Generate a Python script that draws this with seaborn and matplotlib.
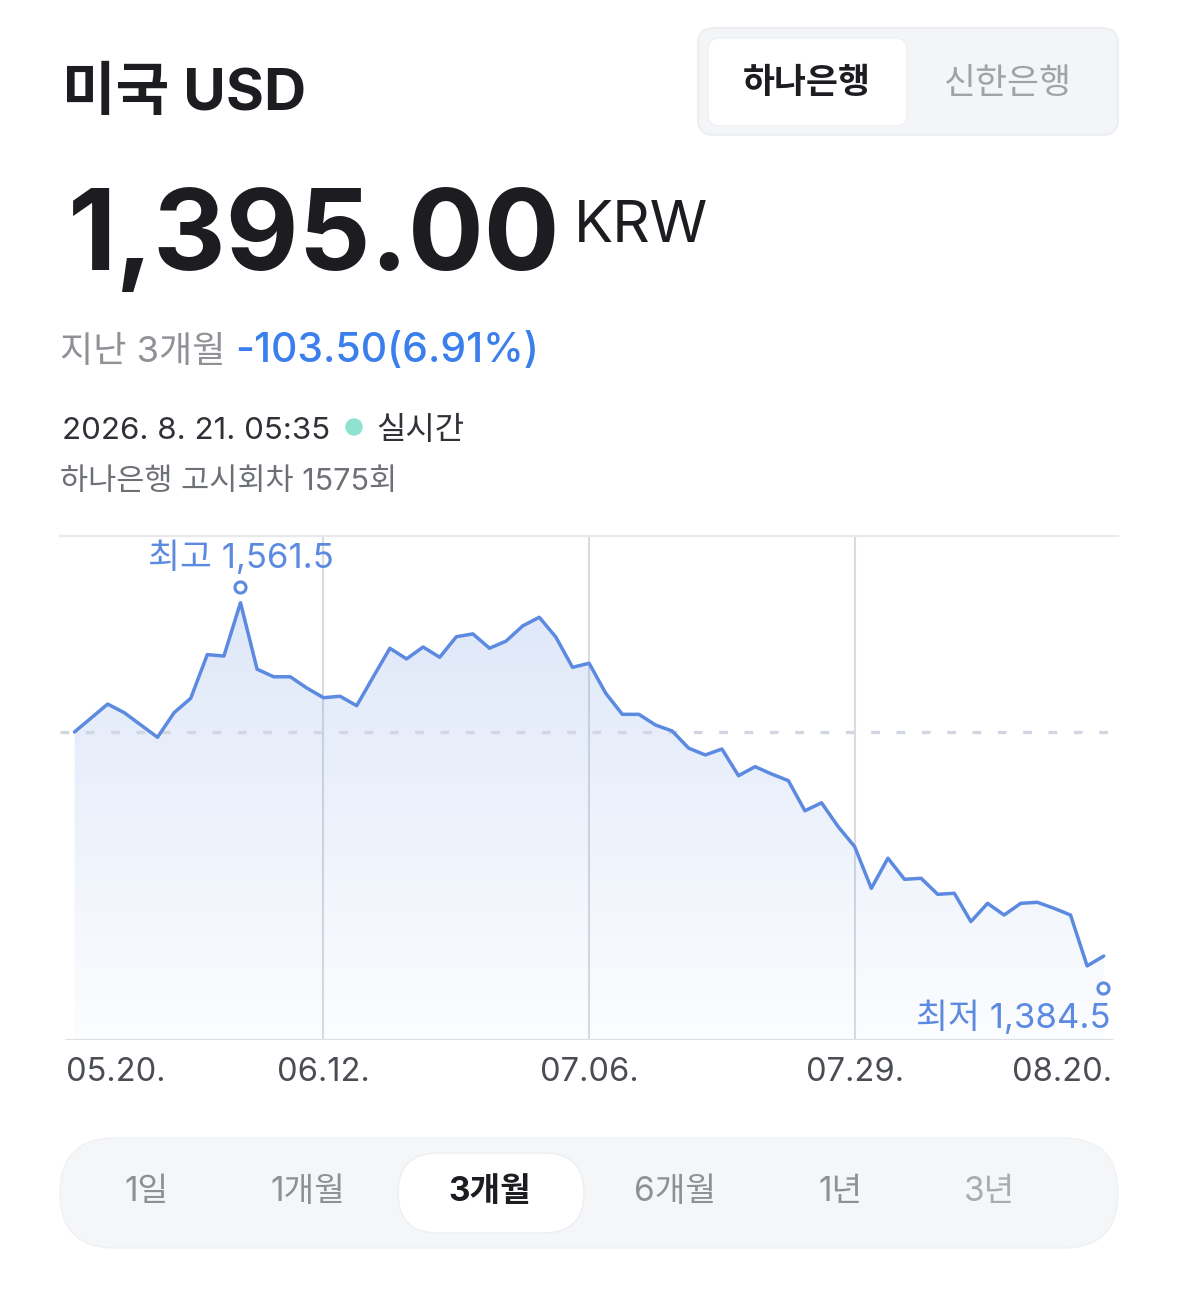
import numpy as np
import pandas as pd
import matplotlib
matplotlib.use("Agg")
import matplotlib.pyplot as plt
import matplotlib.transforms as mtransforms
from matplotlib.patches import FancyBboxPatch, Circle
import seaborn as sns

# USD/KRW (하나은행) daily rates, last 3 months
rates = [1498.5, 1505.3, 1512.1, 1507.9, 1501.9, 1495.9, 1507.9, 1514.9, 1536.2, 1535.5,
         1561.5, 1529.1, 1525.4, 1525.4, 1519.9, 1515.2, 1515.9, 1511.3, 1525.4, 1539.3,
         1534.1, 1539.9, 1534.9, 1544.9, 1546.3, 1539.3, 1542.8, 1550.2, 1554.4, 1544.7,
         1530.0, 1532.0, 1517.4, 1507.1, 1507.1, 1501.9, 1499.0, 1490.6, 1487.3, 1490.2,
         1477.2, 1481.6, 1478.0, 1474.8, 1460.1, 1464.0, 1452.4, 1442.6, 1422.3, 1437.0,
         1426.7, 1427.2, 1419.4, 1419.9, 1406.1, 1415.0, 1409.3, 1415.0, 1415.5, 1412.6,
         1409.3, 1384.5, 1389.3]
tick_days = [0, 15, 31, 47, 62]
tick_labels = ["05.20.", "06.12.", "07.06.", "07.29.", "08.20."]
base_rate = 1498.5
period_labels = ["1일", "1개월", "3개월", "6개월", "1년", "3년"]
bank_labels = ["하나은행", "신한은행"]

LINE = "#5b8ae0"
DARK = "#1c1c21"

sns.set_theme(style="white")
# latin glyphs from Inter, hangul falls through to Noto CJK
plt.rcParams["font.family"] = ["Inter", "Noto Sans CJK KR", "DejaVu Sans"]

W, H = 1179, 1294
fig = plt.figure(figsize=(W / 100, H / 100), dpi=100)
fig.patch.set_facecolor("white")

# overlay in pixel units for the page elements
bg = fig.add_axes([0, 0, 1, 1], zorder=0)
bg.set_xlim(0, W)
bg.set_ylim(H, 0)
bg.axis("off")

# ---- chart ----
ax = fig.add_axes([60 / W, (H - 1040) / H, 1058 / W, 504 / H], zorder=1)
ax.patch.set_alpha(0)
df = pd.DataFrame({"day": np.arange(len(rates)), "rate": rates})
x0, x1 = -0.873, 62.86
y0, y1 = 1348.4, 1594.0

poly = ax.fill_between(df["day"], df["rate"], y0, color="none", lw=0)
grad = np.zeros((256, 1, 4))
grad[:, 0, 0] = 0.36
grad[:, 0, 1] = 0.54
grad[:, 0, 2] = 0.88
grad[:, 0, 3] = np.linspace(0.02, 0.2, 256)
im = ax.imshow(grad, extent=[x0, x1, y0, max(rates)], origin="lower",
               aspect="auto", zorder=1)
im.set_clip_path(poly.get_paths()[0], transform=ax.transData)

sns.lineplot(data=df, x="day", y="rate", ax=ax, color=LINE, lw=2.5, zorder=3)
ax.axhline(base_rate, color="#d1d6e0", lw=2.4, ls=(0, (2.6, 5.0)), zorder=2)
for d in tick_days[1:-1]:
    ax.axvline(d, color="#d9dbe0", lw=1.5, zorder=0)
ax.axhline(y0, xmin=6 / 1058, xmax=1052 / 1058, color="#dcdee3", lw=2.2, zorder=2)

ax.set_xlim(x0, x1)
ax.set_ylim(y0, y1)
ax.set_aspect("auto")
for side in ["left", "right", "bottom"]:
    ax.spines[side].set_visible(False)
ax.spines["top"].set_color("#e8e9ec")
ax.spines["top"].set_linewidth(1.6)
ax.set_yticks([])
ax.set_xticks(tick_days, tick_labels)
ax.tick_params(axis="x", length=0, pad=12, labelsize=23.5, labelcolor="#4b4d55")
ax.set_xlabel("")
ax.set_ylabel("")
xt = ax.get_xticklabels()
xt[0].set_ha("left")
xt[-1].set_ha("right")
# shift first/last labels to the axis line ends
xt[0].set_transform(xt[0].get_transform() + mtransforms.ScaledTranslation(-8.5 / 100, 0, fig.dpi_scale_trans))
xt[-1].set_transform(xt[-1].get_transform() + mtransforms.ScaledTranslation(8 / 100, 0, fig.dpi_scale_trans))

# high / low markers
i_hi = int(np.argmax(rates))
i_lo = int(np.argmin(rates))
hi_tr = mtransforms.offset_copy(ax.transData, fig=fig, x=0, y=16, units="dots")
lo_tr = mtransforms.offset_copy(ax.transData, fig=fig, x=16, y=-22, units="dots")
ax.plot(i_hi, rates[i_hi], "o", ms=8, mfc="white", mec=LINE, mew=2.2, transform=hi_tr, zorder=4)
ax.plot(i_lo, rates[i_lo], "o", ms=8, mfc="white", mec=LINE, mew=2.2, transform=lo_tr, zorder=4)
ax.annotate(f"최고 {rates[i_hi]:,.1f}", (i_hi, rates[i_hi]), xytext=(0, 32),
            textcoords="offset points", ha="center", va="center",
            fontsize=25, color=LINE)
ax.annotate(f"최저 {rates[i_lo]:,.1f}", (i_lo, rates[i_lo]), xytext=(17, -37),
            textcoords="offset points", ha="right", va="center",
            fontsize=25, color=LINE)

# ---- header ----
bg.text(62, 110, "미국 USD", fontsize=42, fontweight="bold", color=DARK, va="baseline")
bg.text(68, 270, "1,395.00", fontsize=81, fontweight="bold", color=DARK, va="baseline")
bg.text(574, 242, "KRW", fontsize=42, color=DARK, va="baseline")
bg.text(60, 362, "지난 3개월", fontsize=26, color="#8f9197", va="baseline")
bg.text(235, 362, "-103.50(6.91%)", fontsize=29.5, fontweight="medium", color="#3b7fec", va="baseline")
bg.text(62, 439, "2026. 8. 21. 05:35", fontsize=22.5, color="#303136", va="baseline")
bg.add_patch(Circle((354, 427), 8, color="#8fe2cf"))
bg.text(376, 439, "실시간", fontsize=23, color="#303136", va="baseline")
bg.text(60, 490, "하나은행 고시회차 1575회", fontsize=22, color="#6d7077", va="baseline")

# bank toggle
bg.add_patch(FancyBboxPatch((698, 28), 420, 107, boxstyle="round,pad=0,rounding_size=16",
                            fc="#f4f5f7", ec="#eceef1", lw=1.5))
bg.add_patch(FancyBboxPatch((708, 38), 199, 88, boxstyle="round,pad=0,rounding_size=12",
                            fc="white", ec="#eef0f3", lw=1))
bg.text(807, 84, bank_labels[0], fontsize=25, fontweight="bold", color=DARK,
        ha="center", va="center")
bg.text(1008, 84, bank_labels[1], fontsize=25, color="#a0a2a8", ha="center", va="center")

# period selector
bg.add_patch(FancyBboxPatch((60, 1138), 1058, 110, boxstyle="round,pad=0,rounding_size=55",
                            fc="#f5f6f8", ec="#f0f1f4", lw=1))
bg.add_patch(FancyBboxPatch((398, 1153), 186, 80, boxstyle="round,pad=0,rounding_size=40",
                            fc="white", ec="#eceef2", lw=1))
period_x = [147, 308, 490, 675, 840, 989]
for lab, px in zip(period_labels, period_x):
    if lab == "3개월":
        bg.text(px, 1192, lab, fontsize=24, fontweight="bold", color=DARK, ha="center", va="center")
    else:
        col = "#a9abb1" if lab == "3년" else "#8e9096"
        bg.text(px, 1192, lab, fontsize=24, color=col, ha="center", va="center")

fig.savefig("out.png", dpi=100, facecolor="white")
